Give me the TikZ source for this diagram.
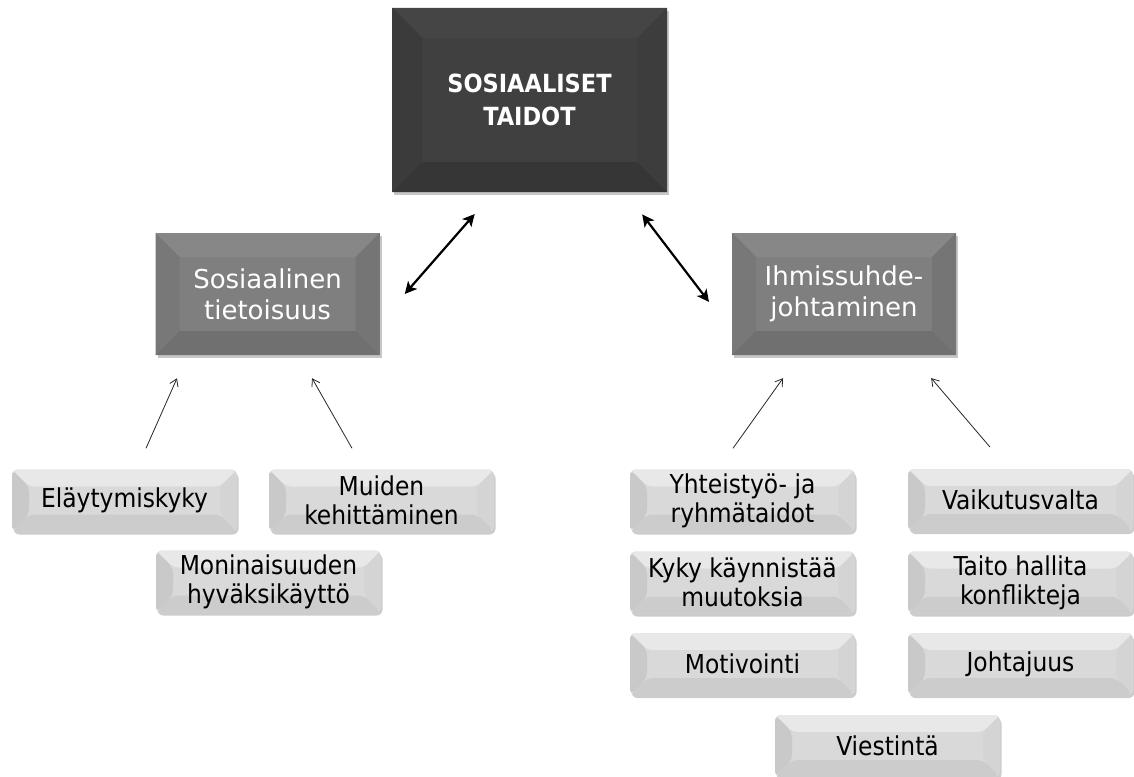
\documentclass[tikz,border=0pt]{standalone}
\usepackage{fontspec}
\setmainfont{DejaVu Sans}
\newfontfamily\condfont{DejaVu Sans Condensed}
\usepackage{tikz}
\usetikzlibrary{shadows}
\usetikzlibrary{arrows.meta}
\definecolor{topface}{HTML}{404040}
\definecolor{midface}{HTML}{7F7F7F}
\definecolor{lowface}{HTML}{D9D9D9}
\newcommand{\bevel}[5]{
 \fill[#2] (path picture bounding box.north west) -- (path picture bounding box.north east) -- ([shift={(-#1,-#1)}]path picture bounding box.north east) -- ([shift={(#1,-#1)}]path picture bounding box.north west) -- cycle;
 \fill[#3] (path picture bounding box.north west) -- (path picture bounding box.south west) -- ([shift={(#1,#1)}]path picture bounding box.south west) -- ([shift={(#1,-#1)}]path picture bounding box.north west) -- cycle;
 \fill[#4] (path picture bounding box.north east) -- (path picture bounding box.south east) -- ([shift={(-#1,#1)}]path picture bounding box.south east) -- ([shift={(-#1,-#1)}]path picture bounding box.north east) -- cycle;
 \fill[#5] (path picture bounding box.south west) -- (path picture bounding box.south east) -- ([shift={(-#1,#1)}]path picture bounding box.south east) -- ([shift={(#1,#1)}]path picture bounding box.south west) -- cycle;}
\tikzset{
 mainbox/.style={fill=topface, minimum width=275pt, minimum height=184pt, text=white, align=center, font=\condfont\bfseries\fontsize{25}{33}\selectfont, drop shadow={opacity=0.45, shadow xshift=2pt, shadow yshift=-3pt}, path picture={\bevel{30pt}{black!73}{black!77}{black!76}{black!79}}},
 areabox/.style={fill=midface, minimum width=224pt, minimum height=122pt, text=white, align=center, font=\fontsize{26}{31}\selectfont, drop shadow={opacity=0.45, shadow xshift=2pt, shadow yshift=-3pt}, path picture={\bevel{24pt}{black!47}{black!53}{black!54}{black!56}}},
 skillbox/.style={fill=lowface, rounded corners=6pt, minimum width=225pt, minimum height=62pt, text=black, align=center, font=\condfont\fontsize{26}{29}\selectfont, drop shadow={opacity=0.4, shadow xshift=1.5pt, shadow yshift=-3pt}, path picture={\bevel{17pt}{black!9}{black!21}{black!17}{black!20}}},
 dbl/.style={{Stealth[length=12pt,width=12pt,inset=3pt]}-{Stealth[length=12pt,width=12pt,inset=3pt]}, line width=2.2pt},
 thin/.style={-{Straight Barb[length=7pt,width=9pt]}, line width=0.8pt, black!85}
}
\begin{document}
\begin{tikzpicture}[x=1pt,y=-1pt]
 \useasboundingbox (0,0) rectangle (1134,776);
 % top
 \node[mainbox] (top) at (529.5,100) {SOSIAALISET\\TAIDOT};
 % middle
 \node[areabox] (sos) at (267.5,294) {Sosiaalinen\\tietoisuus};
 \node[areabox] (ihm) at (844,294) {Ihmissuhde-\\johtaminen};
 % left skills
 \node[skillbox] (ela) at (124.5,500.5) {Eläytymiskyky};
 \node[skillbox] (mui) at (381.5,500.5) {Muiden\\kehittäminen};
 \node[skillbox] (mon) at (268.5,581.5) {Moninaisuuden\\hyväksikäyttö};
 % right skills
 \node[skillbox] (yht) at (742.5,500.5) {Yhteistyö- ja\\ryhmätaidot};
 \node[skillbox] (vai) at (1020.5,500) {Vaikutusvalta};
 \node[skillbox] (kyk) at (742.5,582.5) {Kyky käynnistää\\muutoksia};
 \node[skillbox] (tai) at (1020.5,582.5) {Taito hallita\\konflikteja};
 \node[skillbox] (mot) at (742.5,664) {Motivointi};
 \node[skillbox] (joh) at (1020.5,664) {Johtajuus};
 \node[skillbox] (vie) at (887.5,746) {Viestintä};
 % arrows top
 \draw[dbl, shorten <=29pt, shorten >=38pt] ([xshift=102pt]top.south west) -- ([yshift=-28.6pt]sos.east);
 \draw[dbl, shorten <=28pt, shorten >=37.6pt] ([xshift=-42pt]top.south east) -- ([yshift=-37.8pt]ihm.west);
 % arrows bottom
 \draw[thin, shorten <=23pt, shorten >=25.2pt] ([xshift=12.2pt]ela.north) -- ([xshift=-80.3pt]sos.south);
 \draw[thin, shorten <=24.2pt, shorten >=26.5pt] ([xshift=-17.5pt]mui.north) -- ([xshift=31.4pt]sos.south);
 \draw[thin, shorten <=25.8pt, shorten >=28.2pt] ([xshift=-24.5pt]yht.north) -- ([xshift=-44.6pt]ihm.south);
 \draw[thin, shorten <=28.7pt, shorten >=30.1pt] ([xshift=-12pt]vai.north) -- ([xshift=67.6pt]ihm.south);
\end{tikzpicture}
\end{document}
